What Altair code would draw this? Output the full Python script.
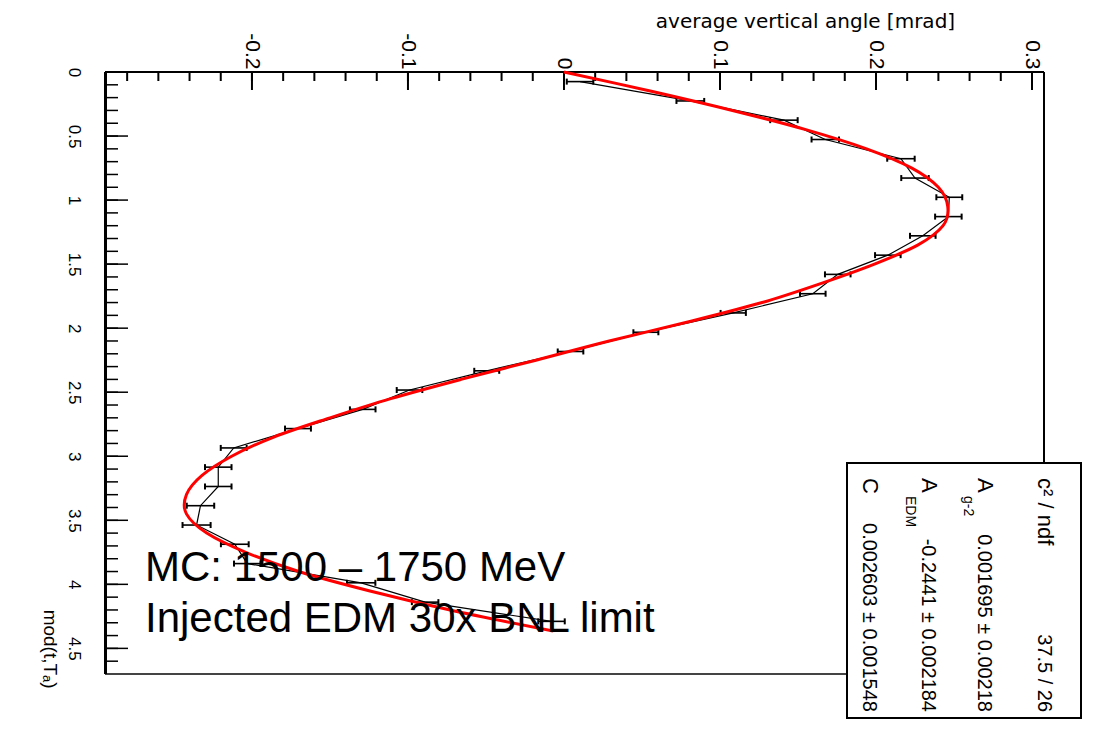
import altair as alt
import pandas as pd

# ---------------- data ----------------
# bin centres of mod(t, T_a)
t_centers = [0.075, 0.226, 0.376, 0.527, 0.677, 0.828, 0.978, 1.129, 1.279, 1.430,
             1.580, 1.731, 1.881, 2.032, 2.182, 2.333, 2.483, 2.634, 2.784, 2.935,
             3.085, 3.236, 3.386, 3.537, 3.687, 3.838, 3.988, 4.139, 4.289]
# average vertical angle [mrad]
angle_mean = [0.0103, 0.081, 0.141, 0.1675, 0.216, 0.225, 0.247, 0.2464, 0.230, 0.2076,
              0.1755, 0.1595, 0.1085, 0.0525, 0.0042, -0.0495, -0.099, -0.129, -0.1705, -0.2117,
              -0.2216, -0.2216, -0.233, -0.2355, -0.211, -0.203, -0.130, -0.089, -0.008]
angle_err = [0.0085, 0.0089, 0.0088, 0.0088, 0.0088, 0.0088, 0.0083, 0.0085, 0.0082, 0.0082,
             0.0082, 0.0082, 0.0081, 0.0080, 0.0082, 0.0080, 0.0082, 0.0082, 0.0083, 0.0083,
             0.0085, 0.0085, 0.0088, 0.0090, 0.0089, 0.0085, 0.0091, 0.0085, 0.0085]

# red fit curve
fit_t = [0.00, 0.15, 0.30, 0.45, 0.60, 0.75, 0.90, 1.05, 1.20, 1.35, 1.50, 1.65, 1.80,
         1.95, 2.10, 2.25, 2.40, 2.55, 2.70, 2.85, 3.00, 3.15, 3.30, 3.45, 3.60, 3.75,
         3.90, 4.05, 4.20, 4.365]
fit_v = [0.000, 0.056, 0.108, 0.155, 0.194, 0.223, 0.240, 0.246, 0.243, 0.227, 0.199,
         0.165, 0.127, 0.080, 0.029, -0.018, -0.066, -0.111, -0.150, -0.186, -0.213,
         -0.232, -0.242, -0.242, -0.229, -0.204, -0.170, -0.125, -0.073, -0.007]

# axis ticks
x_major = [-0.2, -0.1, 0.0, 0.1, 0.2, 0.3]
x_minor = [round(-0.28 + 0.02 * i, 2) for i in range(30)]
y_major = [0, 0.5, 1, 1.5, 2, 2.5, 3, 3.5, 4, 4.5]
y_minor = [round(0.1 * i, 1) for i in range(47)]

# stats box
stat_names = ["c² / ndf", "A", "A", "C"]
stat_subs = ["", "g-2", "EDM", ""]
stat_values = ["37.5 / 26", "0.001695 ± 0.00218", "-0.2441 ± 0.002184", "0.002603 ± 0.001548"]

labels_text = ["MC: 1500 – 1750 MeV", "Injected EDM 30x BNL limit"]

# ---------------- chart ----------------
W, H = 939, 602
FONT = "Liberation Sans"
xs = alt.Scale(domain=[-0.2942, 0.3077], nice=False, zero=False)
ys = alt.Scale(domain=[0, 4.7], nice=False, zero=False, reverse=True)

x_axis = alt.Axis(orient="top", values=x_major, labelExpr="toString(datum.value)",
                  labelAngle=90, labelAlign="right", labelBaseline="middle",
                  labelPadding=3, labelFont=FONT, labelFontSize=21,
                  labelColor="black", labelFlush=False, labelOverlap=False,
                  domain=False, ticks=False, grid=False,
                  title="average vertical angle [mrad]", titleFont="DejaVu Sans",
                  titleFontSize=20, titleFontWeight="normal", titleColor="black",
                  titleAngle=0, titleAlign="center", titleBaseline="middle",
                  titleX=700, titleY=-51)
y_axis = alt.Axis(orient="left", values=y_major, labelExpr="toString(datum.value)",
                  labelAngle=90, labelAlign="center", labelBaseline="top",
                  labelPadding=24, labelFont=FONT, labelFontSize=17,
                  labelColor="black", labelFlush=False, labelOverlap=False,
                  domain=False, ticks=False, grid=False,
                  title="mod(t,Tₐ)", titleFont=FONT, titleFontSize=19,
                  titleFontWeight="normal", titleColor="black", titleAngle=90,
                  titleAlign="right", titleBaseline="middle", titleX=-56, titleY=616)

pts = pd.DataFrame({"t": t_centers, "v": angle_mean})
pts["lo"] = pts["v"] - pd.Series(angle_err)
pts["hi"] = pts["v"] + pd.Series(angle_err)
fit = pd.DataFrame({"t": fit_t, "v": fit_v})

one = pd.DataFrame({"d": [0]})
layers = []

def frame(color, width, **enc):
    return alt.Chart(one).mark_rule(color=color, strokeWidth=width).encode(**enc)

# frame lines
layers.append(frame("#444444", 2, x=alt.value(0), x2=alt.value(W), y=alt.value(H)))
layers.append(frame("black", 2, x=alt.value(W), y=alt.value(0), y2=alt.value(H)))
layers.append(frame("black", 2, x=alt.value(0), x2=alt.value(W), y=alt.value(0)))
layers.append(frame("black", 3, x=alt.value(0.5), y=alt.value(0), y2=alt.value(H)))

# ticks (inside the frame)
for vals, ln in [(x_major, 18), (x_minor, 9)]:
    layers.append(alt.Chart(pd.DataFrame({"v": vals})).mark_rule(color="black", strokeWidth=2).encode(
        x=alt.X("v:Q", scale=xs, axis=x_axis), y=alt.value(0), y2=alt.value(ln)))
for vals, ln in [(y_major, 23), (y_minor, 13)]:
    layers.append(alt.Chart(pd.DataFrame({"t": vals})).mark_rule(color="black", strokeWidth=1.5).encode(
        y=alt.Y("t:Q", scale=ys, axis=y_axis), x=alt.value(0), x2=alt.value(ln)))

# data
base = alt.Chart(pts)
layers.append(base.mark_line(color="black", strokeWidth=1.2).encode(
    x=alt.X("v:Q", scale=xs, axis=x_axis), y=alt.Y("t:Q", scale=ys, axis=y_axis), order="t:Q"))
layers.append(base.mark_rule(color="black", strokeWidth=1.6).encode(
    x=alt.X("lo:Q", scale=xs, axis=x_axis), x2="hi:Q", y=alt.Y("t:Q", scale=ys, axis=y_axis)))
for f in ["lo", "hi"]:
    layers.append(base.mark_tick(orient="vertical", size=6, thickness=2, color="black", opacity=1).encode(
        x=alt.X(f + ":Q", scale=xs, axis=x_axis), y=alt.Y("t:Q", scale=ys, axis=y_axis)))

# fit
layers.append(alt.Chart(fit).mark_line(color="#ff0000", strokeWidth=3, interpolate="cardinal").encode(
    x=alt.X("v:Q", scale=xs, axis=x_axis), y=alt.Y("t:Q", scale=ys, axis=y_axis), order="t:Q"))

# MC labels
for i, s in enumerate(labels_text):
    layers.append(alt.Chart(one).mark_text(
        align="left", baseline="alphabetic", font=FONT, fontSize=42, color="black").encode(
        x=alt.value(40), y=alt.value(509 + 51 * i), text=alt.value(s)))

# stats box
layers.append(alt.Chart(one).mark_rect(fill="white", stroke="black", strokeWidth=2).encode(
    x=alt.value(742), x2=alt.value(976), y=alt.value(391), y2=alt.value(646)))

col_x = [933, 873, 817, 758]
sub_x = [None, 859, 801, None]
for i in range(4):
    layers.append(alt.Chart(one).mark_text(
        angle=90, align="left", baseline="alphabetic", font=FONT, fontSize=22, color="black").encode(
        x=alt.value(col_x[i]), y=alt.value(406), text=alt.value(stat_names[i])))
    layers.append(alt.Chart(one).mark_text(
        angle=90, align="right", baseline="alphabetic", font=FONT, fontSize=20, color="black").encode(
        x=alt.value(col_x[i]), y=alt.value(640), text=alt.value(stat_values[i])))
    if stat_subs[i]:
        layers.append(alt.Chart(one).mark_text(
            angle=90, align="left", baseline="alphabetic", font=FONT, fontSize=14, color="black").encode(
            x=alt.value(sub_x[i]), y=alt.value(424), text=alt.value(stat_subs[i])))

chart = alt.layer(*layers).properties(
    width=W, height=H, background="white",
    autosize=alt.AutoSizeParams(type="none"),
    padding={"left": 97, "top": 64, "right": 42, "bottom": 46},
).configure_view(strokeWidth=0)

chart.save("out.html", embed_options={"renderer": "svg", "actions": False})
